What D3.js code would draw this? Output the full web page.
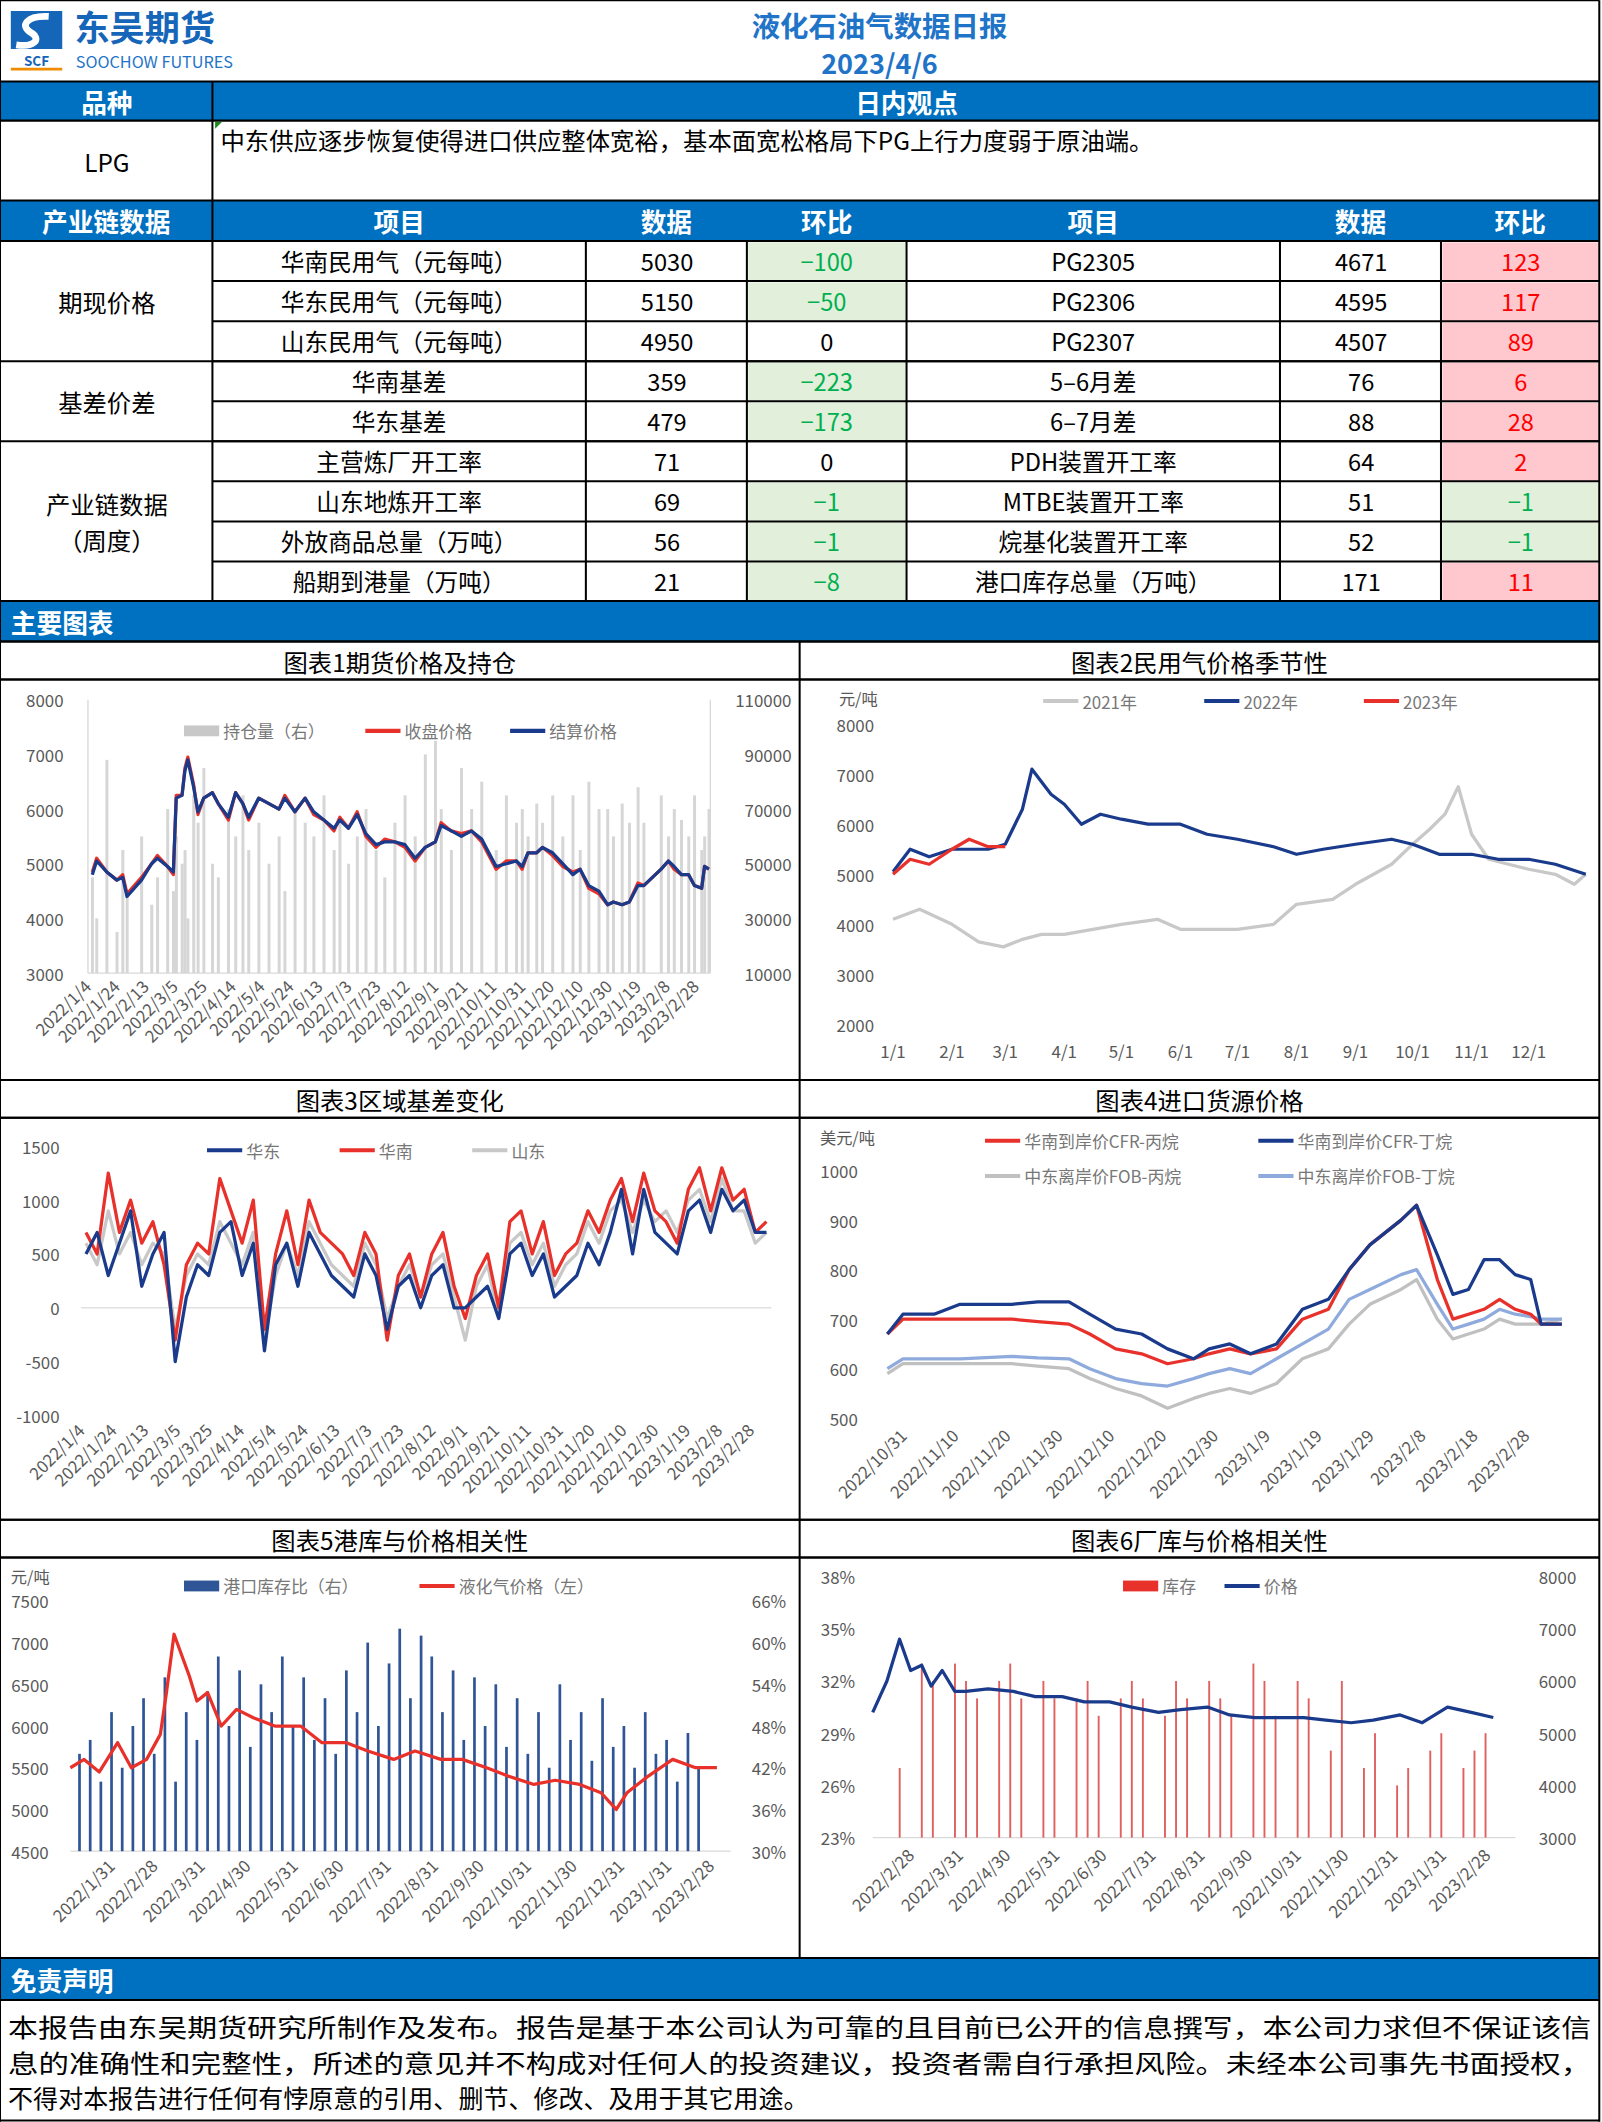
<!DOCTYPE html>
<html><head><meta charset="utf-8">
<script src="https://cdn.jsdelivr.net/npm/d3@7"></script>
<style>body{margin:0;background:#fff}svg{display:block}text{font-family:"Noto Sans CJK SC","Noto Sans",sans-serif}</style>
</head><body>
<svg id="s" width="1602" height="2122" viewBox="0 0 1184 1568"></svg>
<script>
// ---------- DATA ----------
const reportTitle = "液化石油气数据日报", reportDate = "2023/4/6";
const viewText = "中东供应逐步恢复使得进口供应整体宽裕，基本面宽松格局下PG上行力度弱于原油端。";
const tableHead = ["产业链数据","项目","数据","环比","项目","数据","环比"];
const groups = [["期现价格",3],["基差价差",2],["产业链数据\n（周度）",4]];
const itemsL = ["华南民用气（元每吨）","华东民用气（元每吨）","山东民用气（元每吨）","华南基差","华东基差","主营炼厂开工率","山东地炼开工率","外放商品总量（万吨）","船期到港量（万吨）"];
const dataL = [5030,5150,4950,359,479,71,69,56,21];
const chgL = [-100,-50,0,-223,-173,0,-1,-1,-8];
const itemsR = ["PG2305","PG2306","PG2307","5-6月差","6-7月差","PDH装置开工率","MTBE装置开工率","烷基化装置开工率","港口库存总量（万吨）"];
const dataR = [4671,4595,4507,76,88,64,51,52,171];
const chgR = [123,117,89,6,28,2,-1,-1,11];
const disclaimer = ["本报告由东吴期货研究所制作及发布。报告是基于本公司认为可靠的且目前已公开的信息撰写，本公司力求但不保证该信",
"息的准确性和完整性，所述的意见并不构成对任何人的投资建议，投资者需自行承担风险。未经本公司事先书面授权，",
"不得对本报告进行任何有悖原意的引用、删节、修改、及用于其它用途。"];

// chart1
const c1Dates = ["2022-01-04","2022-01-07","2022-01-14","2022-01-21","2022-01-25","2022-01-28","2022-02-07","2022-02-14","2022-02-18","2022-02-25","2022-03-01","2022-03-03","2022-03-07","2022-03-09","2022-03-11","2022-03-15","2022-03-18","2022-03-22","2022-03-28","2022-04-01","2022-04-08","2022-04-13","2022-04-18","2022-04-22","2022-04-29","2022-05-06","2022-05-13","2022-05-17","2022-05-24","2022-05-31","2022-06-06","2022-06-13","2022-06-20","2022-06-24","2022-06-30","2022-07-06","2022-07-12","2022-07-19","2022-07-25","2022-08-01","2022-08-08","2022-08-15","2022-08-22","2022-08-29","2022-09-02","2022-09-09","2022-09-16","2022-09-23","2022-09-30","2022-10-10","2022-10-17","2022-10-24","2022-10-28","2022-11-01","2022-11-07","2022-11-11","2022-11-18","2022-11-25","2022-12-02","2022-12-07","2022-12-13","2022-12-20","2022-12-26","2022-12-30","2023-01-05","2023-01-10","2023-01-16","2023-01-20","2023-02-01","2023-02-06","2023-02-10","2023-02-15","2023-02-20","2023-02-24","2023-03-01","2023-03-03","2023-03-06"];
const c1Close = [4850,5100,4850,4700,4800,4450,4750,5000,5150,4950,4800,6250,6250,6750,6950,6450,5900,6200,6300,6100,5800,6300,6100,5800,6200,6100,6000,6250,5950,6200,5900,5800,5600,5850,5650,5950,5500,5300,5450,5400,5300,5050,5300,5400,5750,5600,5550,5600,5400,4900,5050,5050,4900,5200,5200,5300,5150,4950,4850,4900,4550,4450,4250,4300,4250,4300,4650,4600,4900,5050,4900,4800,4800,4600,4550,4950,4900];
const c1Settle = [4800,5050,4850,4700,4750,4400,4700,5000,5100,4950,4850,6200,6250,6700,6900,6400,5950,6200,6300,6100,5850,6300,6100,5850,6200,6100,6000,6200,5950,6200,5950,5800,5650,5800,5650,5900,5550,5350,5400,5400,5350,5100,5300,5400,5700,5600,5500,5600,5450,4950,5000,5050,4950,5200,5200,5300,5200,5000,4800,4900,4600,4500,4250,4300,4250,4300,4600,4600,4900,5050,4950,4800,4800,4600,4550,4950,4900];
const c1OI = [45000,30000,88000,25000,55000,40000,60000,35000,45000,70000,40000,60000,50000,55000,30000,75000,65000,85000,50000,45000,70000,60000,75000,55000,65000,50000,60000,40000,70000,65000,60000,75000,55000,65000,50000,60000,70000,55000,45000,65000,75000,60000,90000,95000,70000,55000,85000,70000,80000,55000,75000,65000,70000,60000,72000,65000,75000,60000,75000,55000,80000,70000,70000,60000,72000,65000,78000,65000,75000,60000,70000,66000,60000,75000,55000,60000,70000];
const c1LeftTicks = [3000,4000,5000,6000,7000,8000];
const c1RightTicks = [10000,30000,50000,70000,90000,110000];

// chart2 (seasonality; x = day of year, MM-DD)
const c2_2021d = ["01-01","01-15","02-01","02-15","02-28","03-10","03-20","04-01","05-01","05-20","06-01","07-01","07-20","08-01","08-20","09-01","09-20","10-01","10-10","10-18","10-25","11-01","11-10","12-01","12-15","12-25","12-31"];
const c2_2021v = [4100,4300,4000,3650,3550,3700,3800,3800,4000,4100,3900,3900,4000,4400,4500,4800,5200,5600,5900,6200,6750,5800,5300,5100,5000,4800,5000];
const c2_2022d = ["01-01","01-10","01-20","02-01","02-20","03-01","03-10","03-15","03-25","04-01","04-10","04-20","05-01","05-15","06-01","06-15","07-01","07-20","08-01","08-15","09-01","09-20","10-01","10-15","11-01","11-15","12-01","12-15","12-31"];
const c2_2022v = [5050,5500,5350,5500,5500,5600,6300,7100,6600,6400,6000,6200,6100,6000,6000,5800,5700,5550,5400,5500,5600,5700,5600,5400,5400,5300,5300,5200,5000];
const c2_2023d = ["01-01","01-10","01-20","02-01","02-10","02-20","03-01"];
const c2_2023v = [5000,5300,5200,5500,5700,5550,5550];
const c2Months = ["1/1","2/1","3/1","4/1","5/1","6/1","7/1","8/1","9/1","10/1","11/1","12/1"];
const c2Ticks = [2000,3000,4000,5000,6000,7000,8000];

// chart3 (weekly from 2022-01-04)
const c3HD = [500,700,300,600,900,200,500,700,-500,100,400,300,700,800,300,600,-400,400,600,200,700,500,300,200,100,500,300,-200,200,300,0,300,400,0,0,100,200,-100,500,600,300,500,100,200,300,600,400,700,1100,500,1100,700,600,500,900,1000,700,1100,900,1000,700,700];
const c3HN = [700,500,1250,700,1000,600,800,400,-300,400,600,500,1200,900,600,1000,-200,500,900,400,1000,700,600,500,300,700,500,-300,300,500,100,500,700,200,-100,300,500,0,800,900,500,800,300,500,600,900,700,1000,1200,800,1250,900,800,600,1100,1300,900,1300,1000,1100,700,800];
const c3SD = [600,400,900,500,700,400,600,500,-200,300,500,400,800,600,400,700,-300,300,600,300,800,600,400,300,200,600,400,-100,200,400,100,400,500,100,-300,200,400,-100,600,700,400,600,200,400,500,800,600,900,1000,700,1000,800,900,700,1000,1100,800,1200,900,900,600,700];
const c3Ticks = [-1000,-500,0,500,1000,1500];

// chart4 import prices
const c4Dates = ["2022-10-27","2022-10-30","2022-11-05","2022-11-10","2022-11-20","2022-11-25","2022-12-01","2022-12-05","2022-12-10","2022-12-15","2022-12-20","2022-12-25","2022-12-28","2023-01-01","2023-01-05","2023-01-10","2023-01-15","2023-01-20","2023-01-24","2023-01-28","2023-02-03","2023-02-06","2023-02-10","2023-02-13","2023-02-16","2023-02-19","2023-02-22","2023-02-25","2023-02-28","2023-03-02","2023-03-06"];
const c4CfrC4 = [670,710,710,730,730,735,735,710,680,670,640,620,640,650,630,650,720,740,800,850,900,930,830,750,760,820,820,790,780,690,690];
const c4CfrC3 = [670,700,700,700,700,695,690,670,640,630,610,620,630,640,630,640,700,720,800,850,900,930,780,700,710,720,740,720,710,690,690];
const c4FobC4 = [600,620,620,620,625,622,620,600,580,570,565,580,590,600,590,620,650,680,740,760,790,800,730,680,690,700,720,710,705,700,700];
const c4FobC3 = [590,610,610,610,610,605,600,580,560,545,520,540,550,560,550,570,620,640,690,730,760,780,700,660,670,680,700,690,690,690,700];
const c4Labels = ["2022-10-31","2022-11-10","2022-11-20","2022-11-30","2022-12-10","2022-12-20","2022-12-30","2023-01-09","2023-01-19","2023-01-29","2023-02-08","2023-02-18","2023-02-28"];
const c4Ticks = [500,600,700,800,900,1000];

// chart5 port inventory (weekly from 2022-01-07) and price
const c5Ratio = [44,46,40,50,42,48,52,44,55,40,50,46,53,58,48,56,45,54,50,58,48,55,46,52,44,56,50,60,48,57,62,52,61,58,50,56,46,55,48,54,45,52,44,50,42,54,46,50,43,52,45,48,42,50,44,46,40,47,42];
const c5PriceD = ["2022-01-01","2022-01-10","2022-01-20","2022-02-01","2022-02-10","2022-02-20","2022-03-01","2022-03-05","2022-03-10","2022-03-20","2022-03-25","2022-04-01","2022-04-10","2022-04-20","2022-05-01","2022-05-15","2022-06-01","2022-06-15","2022-07-01","2022-07-15","2022-08-01","2022-08-15","2022-09-01","2022-09-15","2022-10-01","2022-10-15","2022-11-01","2022-11-15","2022-12-01","2022-12-15","2022-12-25","2023-01-01","2023-01-15","2023-01-31","2023-02-15","2023-03-01"];
const c5Price = [5500,5600,5450,5800,5500,5600,5900,6400,7100,6600,6300,6400,6000,6200,6100,6000,6000,5800,5800,5700,5600,5700,5600,5600,5500,5400,5300,5350,5300,5200,5000,5200,5400,5600,5500,5500];
const c5Labels = ["2022-01-31","2022-02-28","2022-03-31","2022-04-30","2022-05-31","2022-06-30","2022-07-31","2022-08-31","2022-09-30","2022-10-31","2022-11-30","2022-12-31","2023-01-31","2023-02-28"];
const c5LeftTicks = [4500,5000,5500,6000,6500,7000,7500];
const c5RightTicks = [30,36,42,48,54,60,66];

// chart6 factory inventory (weekly from 2022-02-18) and price
const c6Inv = [27,0,33,32,0,33,32,31,0,32,33,31,0,32,31,0,31,32,30,0,31,32,31,0,30,32,31,0,32,31,30,0,33,32,30,0,32,31,0,28,32,0,27,29,0,26,27,0,28,29,0,27,28,29];
const c6PriceD = ["2022-02-01","2022-02-10","2022-02-18","2022-02-25","2022-03-04","2022-03-10","2022-03-17","2022-03-25","2022-04-01","2022-04-15","2022-05-01","2022-05-15","2022-06-01","2022-06-15","2022-07-01","2022-07-15","2022-08-01","2022-08-15","2022-09-01","2022-09-15","2022-10-01","2022-10-15","2022-11-01","2022-11-15","2022-12-01","2022-12-15","2023-01-01","2023-01-15","2023-01-31","2023-02-15","2023-03-01"];
const c6Price = [5400,6000,6800,6200,6300,5900,6200,5800,5800,5850,5800,5700,5700,5600,5600,5500,5400,5450,5500,5350,5300,5300,5300,5250,5200,5250,5350,5200,5500,5400,5300];
const c6Labels = ["2022-02-28","2022-03-31","2022-04-30","2022-05-31","2022-06-30","2022-07-31","2022-08-31","2022-09-30","2022-10-31","2022-11-30","2022-12-31","2023-01-31","2023-02-28"];
const c6LeftTicks = [23,26,29,32,35,38];
const c6RightTicks = [3000,4000,5000,6000,7000,8000];

// ---------- DRAW ----------
const svg = d3.select("#s");
const BLUE="#0070c0", DK="#1a3a8c", RED="#e8312a", GRAYL="#c8c8c8", TICK="#595959";
const P = d3.timeParse("%Y-%m-%d");
const fmtD = d3.timeFormat("%Y/%-m/%-d");
function T(x,y,s,o={}){return svg.append("text").attr("x",x).attr("y",y).text(s)
  .attr("font-size",o.fs||17).attr("fill",o.c||"#000").attr("text-anchor",o.a||"middle")
  .attr("font-weight",o.w||"normal").attr("dominant-baseline","central");}
function R(x,y,w,h,f){svg.append("rect").attr("x",x).attr("y",y).attr("width",w).attr("height",h).attr("fill",f);}
function L(x1,y1,x2,y2,c="#000",w=1.5){svg.append("line").attr("x1",x1).attr("y1",y1).attr("x2",x2).attr("y2",y2).attr("stroke",c).attr("stroke-width",w);}
const W=1182;
// header
T(650,18,reportTitle,{fs:21,c:"#1f74c8",w:"bold"});
T(650,46,reportDate,{fs:20,c:"#1f74c8",w:"bold"});
// logo
svg.append("path").attr("d","M8,8 h38 v28 h-38 z").attr("fill","#1565b8");
svg.append("path").attr("d","M36,12 C20,11 14,19 23,24 C31,29 25,35 12,33").attr("stroke","#fff").attr("stroke-width",5).attr("fill","none");
T(27,44,"SCF",{fs:10,c:"#1565b8",w:"bold"});
L(8,51,46,51,"#f08c00",2);
T(55,19,"东吴期货",{fs:26,c:"#1565b8",w:"bold",a:"start"});
T(56,45,"SOOCHOW  FUTURES",{fs:12,c:"#1f74c8",a:"start"});
// blue rows
R(0,60,W,29,BLUE); T(79,74.5,"品种",{fs:19,c:"#fff",w:"bold"}); T(670,74.5,"日内观点",{fs:19,c:"#fff",w:"bold"});
T(79,119,"LPG",{fs:18}); T(163,103,viewText,{fs:18,a:"start"});
svg.append("path").attr("d","M159,90 l5,0 l-5,5z").attr("fill","#1a8a1a");
const cols=[0,157,433,552,670,946,1065,W];
R(0,148,W,30,BLUE);
tableHead.forEach((h,i)=>T((cols[i]+cols[i+1])/2,163,h,{fs:19,c:"#fff",w:"bold"}));
const rowY=d3.range(10).map(i=>178+i*29.6);
itemsL.forEach((it,i)=>{
  const y=(rowY[i]+rowY[i+1])/2;
  T(295,y,it,{fs:17.5}); T(493,y,dataL[i],{fs:17.5});
  const cl=chgL[i]; if(cl<0)R(553,rowY[i]+1,116,28.6,"#e2efda"); if(cl>0)R(553,rowY[i]+1,116,28.6,"#ffc7ce");
  T(611,y,cl<0?"\u2212"+(-cl):cl,{fs:17.5,c:cl<0?"#00b050":cl>0?"#ff0000":"#000"});
  T(808,y,itemsR[i].replace("-","\u2013"),{fs:17.5}); T(1006,y,dataR[i],{fs:17.5});
  const cr=chgR[i]; if(cr<0)R(1066,rowY[i]+1,116,28.6,"#e2efda"); if(cr>0)R(1066,rowY[i]+1,116,28.6,"#ffc7ce");
  T(1124,y,cr<0?"\u2212"+(-cr):cr,{fs:17.5,c:cr<0?"#00b050":cr>0?"#ff0000":"#000"});
});
let gi=0;
groups.forEach(([g,n])=>{
  const y0=rowY[gi],y1=rowY[gi+n];const ls=g.split("\n");
  ls.forEach((l,k)=>T(79,(y0+y1)/2+(k-(ls.length-1)/2)*27,l,{fs:18}));
  L(0,y1,W,y1); gi+=n;
});
rowY.forEach((y,i)=>{if(i>0&&i<9)L(157,y,W,y);});
cols.slice(1,-1).forEach(x=>L(x,178,x,444));
R(0,444,W,30,BLUE); T(8,459,"主要图表",{fs:19,c:"#fff",w:"bold",a:"start"});
R(0,1447,W,31,BLUE); T(8,1463,"免责声明",{fs:19,c:"#fff",w:"bold",a:"start"});
disclaimer.forEach((l,i)=>{const t=T(6,1497+i*26.5,l,{fs:18.5,a:"start"}); if(i<2)t.attr("textLength",1170).attr("lengthAdjust","spacingAndGlyphs");});
// chart frames
const chartTitles=[["图表1期货价格及持仓",474],["图表2民用气价格季节性",474],["图表3区域基差变化",798],["图表4进口货源价格",798],["图表5港库与价格相关性",1123],["图表6厂库与价格相关性",1123]];
chartTitles.forEach(([t,y],i)=>{const x0=i%2?591:0,x1=i%2?W:591;T((x0+x1)/2,y+14.5,t,{fs:18});L(0,y,W,y);L(0,y+28,W,y+28);});
L(591,474,591,1447);
[[0,0,W,0],[0,0,0,1568],[W,0,W,1568],[0,1567,W,1567],[0,60,W,60],[0,89,W,89],[0,148,W,148],[0,178,W,178],[0,444,W,444],[0,1447,W,1447],[0,1478,W,1478],[157,60,157,178]].forEach(a=>L(...a));

function yAxisText(ticks,sc,x,anchor,fmt=d=>d){ticks.forEach(v=>T(x,sc(v),fmt(v),{fs:12.5,c:TICK,a:anchor}));}
function xLabels(dates,sc,y,fmt=fmtD){dates.forEach(d=>{const x=sc(d);svg.append("text").attr("transform",`translate(${x},${y}) rotate(-45)`).attr("text-anchor","end").attr("font-size",12.5).attr("fill",TICK).text(fmt(d));});}
function line(xs,ys,xsc,ysc,color,w=2.4){svg.append("path").datum(xs.map((d,i)=>[xsc(d),ysc(ys[i])])).attr("d",d3.line()).attr("fill","none").attr("stroke",color).attr("stroke-width",w).attr("stroke-linejoin","round");}
function legend(items,y){items.forEach(([x,label,color,type])=>{if(type==="bar")R(x,y-4,26,8,color);else L(x,y,x+26,y,color,3);T(x+29,y,label,{fs:12.5,c:"#777",a:"start"});});}
const weekly=(start,n,step=7)=>d3.range(n).map(i=>d3.timeDay.offset(P(start),i*step));

// Chart1
{const x=d3.scaleTime().domain([P("2022-01-01"),P("2023-03-07")]).range([65,525]);
 const y=d3.scaleLinear().domain([3000,8000]).range([719,517]);
 const y2=d3.scaleLinear().domain([10000,110000]).range([719,517]);
 L(65,517,65,719,"#d9d9d9",1);L(525,517,525,719,"#d9d9d9",1);L(65,719,525,719,"#d9d9d9",1);
 const dd=c1Dates.map(P);
 c1OI.forEach((v,i)=>R(x(dd[i])-1,y2(v),2.2,719-y2(v),"#d6d6d6"));
 line(dd,c1Close,x,y,RED);line(dd,c1Settle,x,y,DK);
 yAxisText(c1LeftTicks,y,47,"end");yAxisText(c1RightTicks,y2,585,"end");
 xLabels(d3.range(22).map(i=>d3.timeDay.offset(P("2022-01-04"),i*20)),x,730);
 legend([[136,"持仓量（右）","#c8c8c8","bar"],[270,"收盘价格",RED],[377,"结算价格",DK]],540);
}
// Chart2
{const doy=s=>d3.timeDay.count(P("2022-01-01"),P("2022-"+s));
 const x=d3.scaleLinear().domain([0,364]).range([660,1172]);
 const y=d3.scaleLinear().domain([2000,8000]).range([757,535]);
 T(620,516,"元/吨",{fs:12,c:TICK,a:"start"});
 yAxisText(c2Ticks,y,646,"end");
 c2Months.forEach((m,i)=>T(x(d3.timeDay.count(P("2022-01-01"),new Date(2022,i,1))),776,m,{fs:12.5,c:TICK}));
 line(c2_2021d.map(doy),c2_2021v,x,y,GRAYL);line(c2_2022d.map(doy),c2_2022v,x,y,DK);line(c2_2023d.map(doy),c2_2023v,x,y,RED);
 legend([[771,"2021年",GRAYL],[890,"2022年",DK],[1008,"2023年",RED]],518);
}
// Chart3
{const x=d3.scaleTime().domain([P("2022-01-01"),P("2023-03-10")]).range([60,570]);
 const y=d3.scaleLinear().domain([-1000,1500]).range([1046,847]);
 yAxisText(c3Ticks,y,44,"end",d=>d<0?"-"+(-d):d);
 L(60,y(0),570,y(0),"#e0e0e0",1);
 line(weekly("2022-01-04",c3SD.length),c3SD,x,y,GRAYL);
 line(weekly("2022-01-04",c3HN.length),c3HN,x,y,RED);
 line(weekly("2022-01-04",c3HD.length),c3HD,x,y,DK);
 xLabels(d3.range(22).map(i=>d3.timeDay.offset(P("2022-01-04"),i*20)),x,1058);
 legend([[153,"华东",DK],[251,"华南",RED],[349,"山东",GRAYL]],850);
}
// Chart4
{const x=d3.scaleTime().domain([P("2022-10-26"),P("2023-03-08")]).range([652,1162]);
 const y=d3.scaleLinear().domain([500,1000]).range([1048,865]);
 T(606,840,"美元/吨",{fs:12,c:TICK,a:"start"});
 yAxisText(c4Ticks,y,634,"end");
 const dd=c4Dates.map(P);
 line(dd,c4FobC3,x,y,"#c0c0c0");line(dd,c4FobC4,x,y,"#8faadc");line(dd,c4CfrC3,x,y,RED);line(dd,c4CfrC4,x,y,DK);
 xLabels(c4Labels.map(P),x,1062);
 legend([[728,"华南到岸价CFR-丙烷",RED],[930,"华南到岸价CFR-丁烷",DK]],843);
 legend([[728,"中东离岸价FOB-丙烷","#c0c0c0"],[930,"中东离岸价FOB-丁烷","#8faadc"]],869);
}
// Chart5
{const x=d3.scaleTime().domain([P("2022-01-01"),P("2023-03-10")]).range([52,540]);
 const y=d3.scaleLinear().domain([4500,7500]).range([1368,1183]);
 const y2=d3.scaleLinear().domain([30,66]).range([1368,1183]);
 T(8,1165,"元/吨",{fs:12,c:TICK,a:"start"});
 yAxisText(c5LeftTicks,y,36,"end");yAxisText(c5RightTicks,y2,581,"end",d=>d+"%");
 L(52,1368,540,1368,"#d9d9d9",1);
 weekly("2022-01-07",c5Ratio.length).forEach((d,i)=>R(x(d)-1,y2(c5Ratio[i]),2,1368-y2(c5Ratio[i]),"#2f5597"));
 line(c5PriceD.map(P),c5Price,x,y,RED);
 xLabels(c5Labels.map(P),x,1380);
 legend([[136,"港口库存比（右）","#2f5597","bar"],[310,"液化气价格（左）",RED]],1172);
}
// Chart6
{const x=d3.scaleTime().domain([P("2022-02-01"),P("2023-03-15")]).range([645,1120]);
 const y=d3.scaleLinear().domain([23,38]).range([1358,1165]);
 const y2=d3.scaleLinear().domain([3000,8000]).range([1358,1165]);
 yAxisText(c6LeftTicks,y,632,"end",d=>d+"%");yAxisText(c6RightTicks,y2,1165,"end");
 L(645,1358,1120,1358,"#d9d9d9",1);
 weekly("2022-02-18",c6Inv.length).forEach((d,i)=>{if(c6Inv[i]>0)R(x(d)-0.6,y(c6Inv[i]),1.4,1358-y(c6Inv[i]),"#e06060");});
 line(c6PriceD.map(P),c6Price,x,y2,DK);
 xLabels(c6Labels.map(P),x,1372);
 legend([[830,"库存",RED,"bar"],[905,"价格",DK]],1172);
}
</script></body></html>
